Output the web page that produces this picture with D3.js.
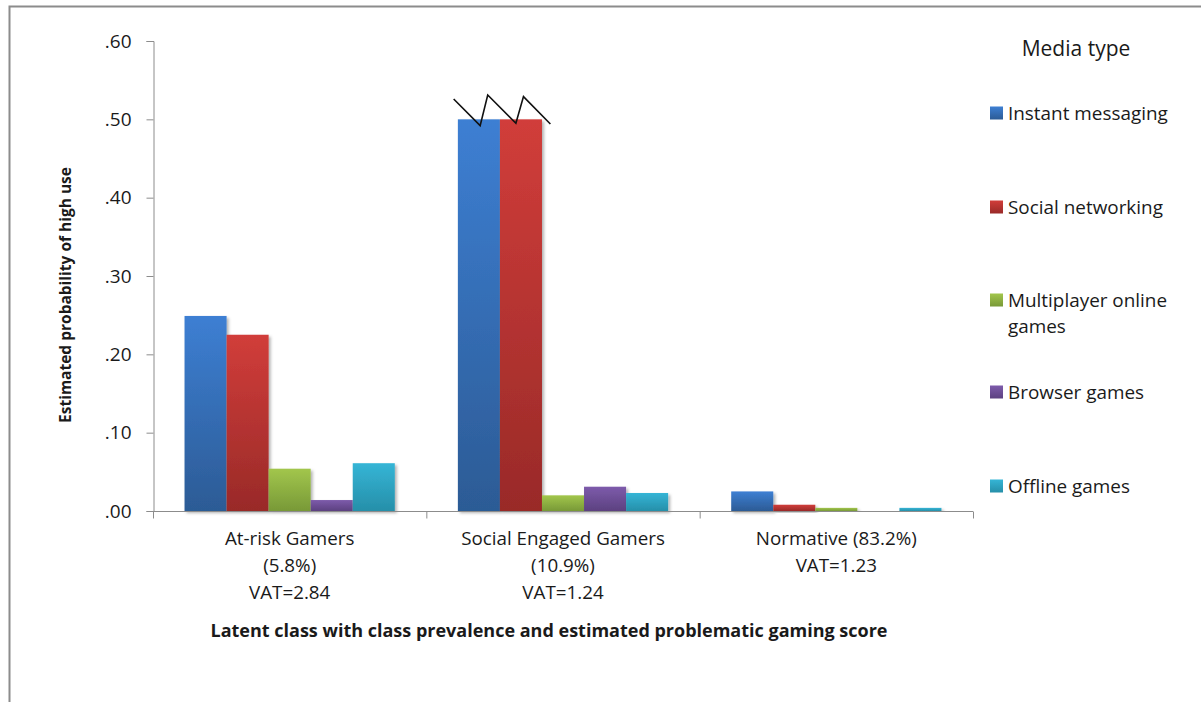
<!DOCTYPE html>
<html><head><meta charset="utf-8">
<script src="https://cdn.jsdelivr.net/npm/d3@7"></script>
<style>
html,body{margin:0;padding:0;background:#fff;}
svg text{font-family:"Open Sans",Lato,sans-serif;fill:#1a1a1a;}
</style></head>
<body><svg id="c" width="1201" height="702"></svg>
<script>
const categories = ["At-risk Gamers", "Social Engaged Gamers", "Normative"];
const categoryLabels = [["At-risk Gamers","(5.8%)","VAT=2.84"],["Social Engaged Gamers","(10.9%)","VAT=1.24"],["Normative (83.2%)","VAT=1.23"]];
const series = ["Instant messaging","Social networking","Multiplayer online games","Browser games","Offline games"];
const legendLabels = [["Instant messaging"],["Social networking"],["Multiplayer online","games"],["Browser games"],["Offline games"]];
const instantMessaging = [0.249, 0.50, 0.025];
const socialNetworking = [0.225, 0.50, 0.008];
const multiplayerGames = [0.054, 0.020, 0.004];
const browserGames = [0.014, 0.031, 0.000];
const offlineGames = [0.061, 0.023, 0.004];
const yTicks = [0, 0.1, 0.2, 0.3, 0.4, 0.5, 0.6];
const colorsTop = ["#3d7fd3","#d13d3a","#a2c64c","#7d5bab","#35b5d6"];
const colorsBottom = ["#2c5b95","#992a28","#789937","#5c4180","#268fa9"];
// axis-break zigzag on truncated bars (fraction of bar width, data value)
const breakX = [-0.1, 0.53, 0.71, 1.38, 1.56, 2.2];
const breakY = [0.526, 0.492, 0.531, 0.495, 0.529, 0.494];

const values = [instantMessaging, socialNetworking, multiplayerGames, browserGames, offlineGames];
const svg = d3.select("#c");

// frame
svg.append("path").attr("d","M9.5,702 L9.5,6.5 L1201,6.5").attr("fill","none").attr("stroke","#8c8c8c").attr("stroke-width",2);

const x0 = d3.scaleBand().domain(categories).range([153, 973]).paddingInner(0).paddingOuter(0);
const x1 = d3.scaleBand().domain(series).range([0, x0.bandwidth()]).paddingInner(0).paddingOuter(0.75);
const y = d3.scaleLinear().domain([0, 0.6]).range([511, 41]);

const defs = svg.append("defs");
series.forEach((s,i)=>{
  const g = defs.append("linearGradient").attr("id","g"+i).attr("x1",0).attr("y1",0).attr("x2",0).attr("y2",1);
  g.append("stop").attr("offset","0%").attr("stop-color",colorsTop[i]);
  g.append("stop").attr("offset","100%").attr("stop-color",colorsBottom[i]);
});
const f = defs.append("filter").attr("id","sh").attr("x","-20%").attr("y","-20%").attr("width","150%").attr("height","150%");
f.append("feDropShadow").attr("dx",2).attr("dy",2).attr("stdDeviation",1.5).attr("flood-color","#000").attr("flood-opacity",0.3);

// y axis
const yAxis = d3.axisLeft(y).tickValues(yTicks).tickSize(7).tickPadding(15)
  .tickFormat(d=>d3.format(".2f")(d).replace(/^0/,""));
const ya = svg.append("g").attr("transform","translate(153.5,0)").call(yAxis);
ya.selectAll("path,line").attr("stroke","#8c8c8c");
ya.selectAll("text").style("font-size","19px").attr("fill","#1a1a1a");

// bars
const groups = svg.append("g").selectAll("g").data(categories).join("g")
  .attr("transform",d=>`translate(${x0(d)},0)`);
groups.selectAll("rect").data((d,ci)=>series.map((s,si)=>({s,si,v:values[si][ci]}))).join("rect")
  .attr("x",d=>x1(d.s)).attr("width",x1.bandwidth())
  .attr("y",d=>y(d.v)).attr("height",d=>y(0)-y(d.v))
  .attr("fill",d=>`url(#g${d.si})`).attr("filter","url(#sh)");

// x axis
const xa = svg.append("g").attr("transform","translate(0,511.5)");
xa.append("line").attr("x1",153).attr("x2",973).attr("stroke","#8c8c8c");
[...categories.map(c=>x0(c)), 973].forEach(xx=>{
  xa.append("line").attr("x1",xx+0.5).attr("x2",xx+0.5).attr("y1",0).attr("y2",7).attr("stroke","#8c8c8c");
});
categories.forEach((c,ci)=>{
  const t = svg.append("text").attr("text-anchor","middle").style("font-size","18.8px");
  categoryLabels[ci].forEach((ln,li)=>{
    t.append("tspan").attr("x",x0(c)+x0.bandwidth()/2).attr("y",545+li*27).text(ln);
  });
});

// zigzag break
const bx = x0(categories[1]) + x1(series[0]);
const w = x1.bandwidth();
svg.append("path").attr("d", d3.line()(breakX.map((fx,i)=>[bx+fx*w, y(breakY[i])])))
  .attr("fill","none").attr("stroke","#111").attr("stroke-width",1.6);

// axis titles
svg.append("text").attr("text-anchor","middle").attr("x",549).attr("y",637)
  .style("font-size","18px").style("font-weight","bold").text("Latent class with class prevalence and estimated problematic gaming score");
svg.append("text").attr("text-anchor","middle").attr("transform","translate(71,295) rotate(-90)")
  .style("font-size","15.5px").style("font-weight","bold").text("Estimated probability of high use");

// legend
svg.append("text").attr("x",1076).attr("y",56).attr("text-anchor","middle").style("font-size","21px").text("Media type");
const legY = [113, 207, 300, 392, 486];
series.forEach((s,i)=>{
  const g = svg.append("g").attr("transform",`translate(990,${legY[i]})`);
  g.append("rect").attr("x",0).attr("y",-6.5).attr("width",13).attr("height",13).attr("fill",`url(#g${i})`);
  const t = g.append("text").style("font-size","18.9px");
  legendLabels[i].forEach((ln,li)=>t.append("tspan").attr("x",18).attr("y",6.5+li*26).text(ln));
});
</script></body></html>
